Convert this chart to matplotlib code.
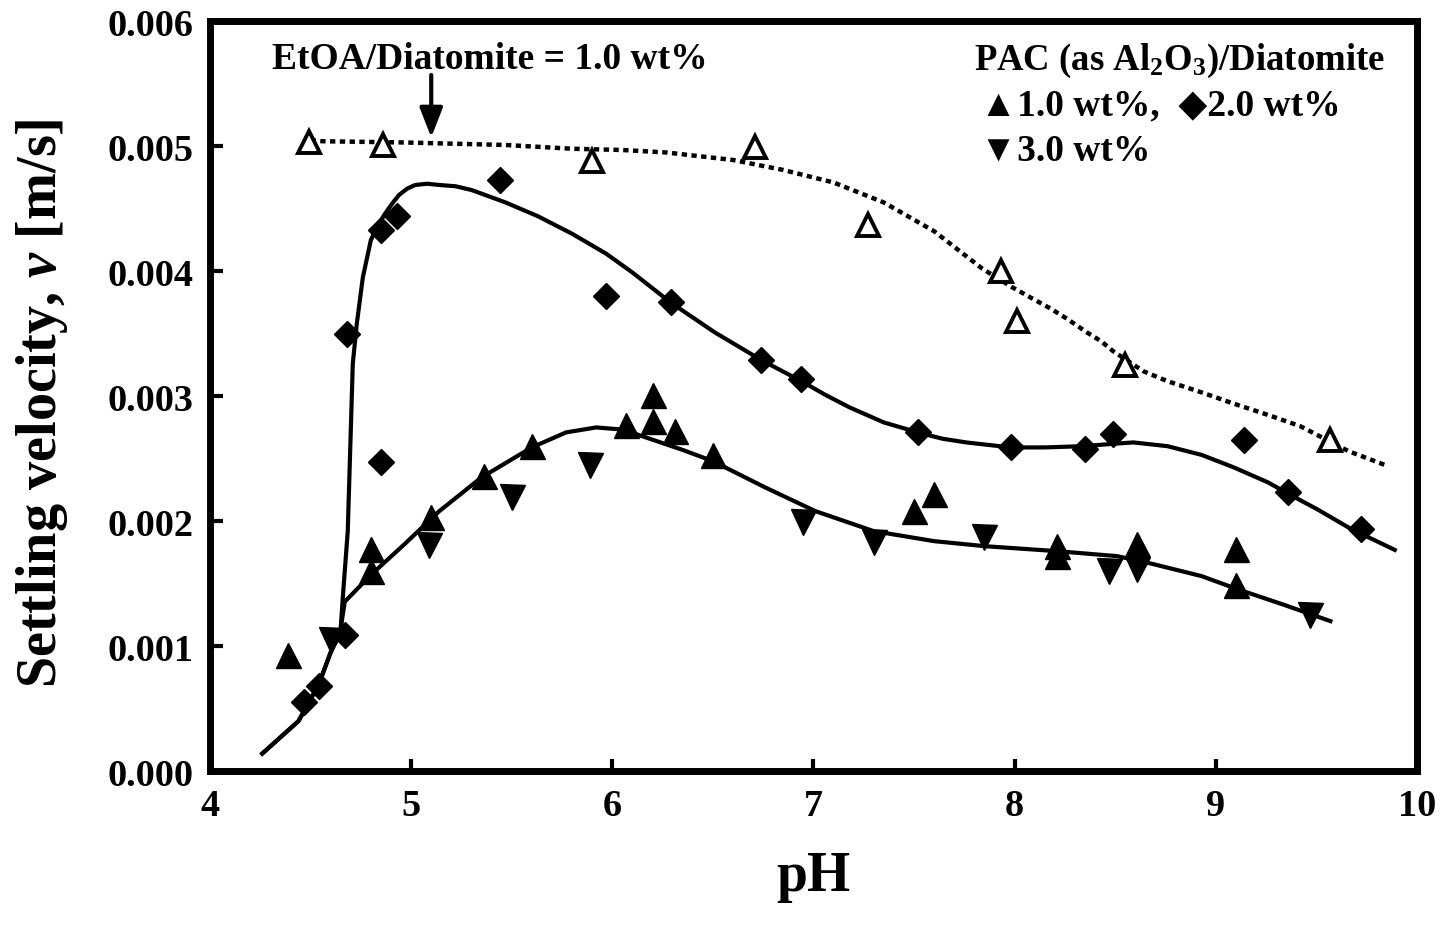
import matplotlib.pyplot as plt
import numpy as np

plt.rcParams['font.family'] = ['Liberation Serif', 'DejaVu Sans']
plt.rcParams['font.weight'] = 'bold'
plt.rcParams['mathtext.fontset'] = 'custom'
plt.rcParams['mathtext.rm'] = 'Liberation Serif:bold'
plt.rcParams['mathtext.bf'] = 'Liberation Serif:bold'
plt.rcParams['mathtext.it'] = 'Liberation Serif:italic:bold'

# EtOA/Diatomite = 1.0 wt% (open triangles), values in 1e-3 m/s
etoa_ph = [4.49, 4.86, 5.90, 6.71, 7.27, 7.93, 8.01, 8.55, 9.57]
etoa_v = [5.03, 5.01, 4.88, 4.99, 4.37, 4.00, 3.60, 3.25, 2.65]

# PAC 1.0 wt% (up triangles)
pac1_ph = [4.39, 4.80, 4.80, 5.10, 5.36, 5.60, 6.07, 6.20, 6.20, 6.31,
           6.50, 7.50, 7.60, 8.21, 8.21, 8.61, 9.10, 9.10]
pac1_v = [0.93, 1.78, 1.60, 2.03, 2.36, 2.60, 2.77, 3.01, 2.80, 2.72,
          2.53, 2.08, 2.22, 1.80, 1.72, 1.82, 1.78, 1.49]

# PAC 2.0 wt% (diamonds)
pac2_ph = [4.47, 4.54, 4.67, 4.68, 4.85, 4.85, 4.93, 5.44, 5.97, 6.29,
           6.74, 6.94, 7.52, 7.98, 8.35, 8.49, 9.14, 9.36, 9.72]
pac2_v = [0.55, 0.68, 1.09, 3.50, 2.47, 4.33, 4.44, 4.73, 3.80, 3.75,
          3.29, 3.14, 2.71, 2.59, 2.58, 2.70, 2.65, 2.23, 1.94]

# PAC 3.0 wt% (down triangles)
pac3_ph = [4.60, 5.09, 5.50, 5.89, 6.95, 7.30, 7.85, 8.47, 8.61, 9.47]
pac3_v = [1.05, 1.81, 2.19, 2.45, 1.99, 1.83, 1.87, 1.60, 1.62, 1.25]

# trend lines
fit_etoa_ph = [4.50, 4.56, 4.97, 5.47, 5.80, 6.05, 6.27, 6.60, 6.85, 7.10,
               7.35, 7.60, 7.84, 7.99, 8.09, 8.18, 8.26, 8.36, 8.43, 8.49,
               8.64, 8.76, 8.93, 9.09, 9.26, 9.42, 9.54, 9.66, 9.84]
fit_etoa_v = [5.05, 5.04, 5.03, 5.01, 4.98, 4.97, 4.95, 4.89, 4.81, 4.71,
              4.55, 4.32, 4.02, 3.87, 3.78, 3.70, 3.62, 3.51, 3.44, 3.36,
              3.20, 3.12, 3.03, 2.94, 2.85, 2.76, 2.66, 2.56, 2.45]

fit_high_ph = [4.26, 4.44, 4.54, 4.60, 4.65, 4.66, 4.685, 4.70, 4.71, 4.73,
               4.76, 4.80, 4.84, 4.87, 4.91, 4.94, 4.98, 5.02, 5.08, 5.14,
               5.22, 5.30, 5.47, 5.63, 5.80, 5.97, 6.10, 6.29, 6.51, 6.74,
               6.94, 7.06, 7.18, 7.35, 7.52, 7.64, 7.76, 7.98, 8.15, 8.34,
               8.50, 8.59, 8.76, 8.93, 9.09, 9.26, 9.36, 9.51, 9.67, 9.89]
fit_high_v = [0.14, 0.40, 0.69, 0.95, 1.14, 1.38, 1.92, 2.72, 3.26, 3.58,
              3.95, 4.25, 4.38, 4.46, 4.55, 4.61, 4.66, 4.69, 4.70, 4.69,
              4.68, 4.65, 4.55, 4.44, 4.30, 4.14, 3.99, 3.75, 3.51, 3.29,
              3.12, 3.01, 2.91, 2.79, 2.71, 2.66, 2.63, 2.59, 2.59, 2.60,
              2.62, 2.63, 2.60, 2.53, 2.43, 2.31, 2.22, 2.09, 1.94, 1.77]

fit_low_ph = [4.26, 4.44, 4.54, 4.60, 4.65, 4.67, 4.80, 4.97, 5.14, 5.35,
              5.60, 5.77, 5.92, 6.07, 6.13, 6.35, 6.50, 6.76, 7.01, 7.30,
              7.60, 7.85, 8.03, 8.21, 8.51, 8.68, 8.93, 9.10, 9.34, 9.57]
fit_low_v = [0.14, 0.40, 0.69, 0.95, 1.14, 1.355, 1.57, 1.82, 2.08, 2.35,
             2.59, 2.71, 2.75, 2.73, 2.69, 2.57, 2.48, 2.27, 2.08, 1.92,
             1.84, 1.80, 1.78, 1.76, 1.72, 1.66, 1.56, 1.46, 1.33, 1.20]

s = 1e-3
fig = plt.figure(figsize=(14.42, 9.28), dpi=100)
ax = fig.add_axes([0.1456, 0.168, 0.8370, 0.808])

ax.plot(fit_etoa_ph, np.array(fit_etoa_v) * s, color='black', lw=3.2,
        linestyle=(0, (1.2, 1.0)))
ax.plot(fit_high_ph, np.array(fit_high_v) * s, color='black', lw=3.0)
ax.plot(fit_low_ph, np.array(fit_low_v) * s, color='black', lw=3.0)

ax.plot(etoa_ph, np.array(etoa_v) * s, '^', ms=16, mfc='white', mec='black',
        mew=2.8, ls='none')
ax.plot(pac1_ph, np.array(pac1_v) * s, '^', ms=18, color='black', ls='none')
ax.plot(pac2_ph, np.array(pac2_v) * s, 'D', ms=13.5, color='black', ls='none')
ax.plot(pac3_ph, np.array(pac3_v) * s, 'v', ms=18, color='black', ls='none')

ax.set_xlim(4, 10)
ax.set_ylim(0, 0.006)
ax.set_xticks([4, 5, 6, 7, 8, 9, 10])
ax.set_yticks(np.arange(0, 0.0061, 0.001))
ax.set_yticklabels([f'{v:.3f}' for v in np.arange(0, 0.0061, 0.001)])
ax.tick_params(direction='in', length=9, width=3, labelsize=27.5, pad=12)
for sp in ax.spines.values():
    sp.set_linewidth(5)

ax.set_xlabel('pH', fontsize=40, fontweight='bold')
ax.xaxis.set_label_coords(0.5, -0.105)
ax.set_ylabel('Settling velocity, $\\mathit{v}$ [m/s]', fontsize=40.5,
              fontweight='bold')
ax.yaxis.set_label_coords(-0.116, 0.492)

ax.text(4.31, 0.00570, 'EtOA/Diatomite = 1.0 wt%', fontsize=27,
        fontweight='bold', ha='left', va='center')
ax.annotate('', xy=(5.10, 0.00507), xytext=(5.10, 0.00557),
            arrowprops=dict(arrowstyle='-|>,head_length=0.9,head_width=0.35',
                            color='black', lw=3, mutation_scale=20,
                            shrinkA=0, shrinkB=0))

ax.text(7.80, 0.00569, 'PAC (as Al$_\\mathbf{2}$O$_\\mathbf{3}$)/Diatomite',
        fontsize=26.5, fontweight='bold', ha='left', va='center')
ax.text(7.83, 0.00533, '\u25B21.0 wt%,  \u25C62.0 wt%', fontsize=27,
        fontweight='bold', ha='left', va='center')
ax.text(7.83, 0.00497, '\u25BC3.0 wt%', fontsize=27, fontweight='bold',
        ha='left', va='center')

fig.savefig('out.png', dpi=100)
